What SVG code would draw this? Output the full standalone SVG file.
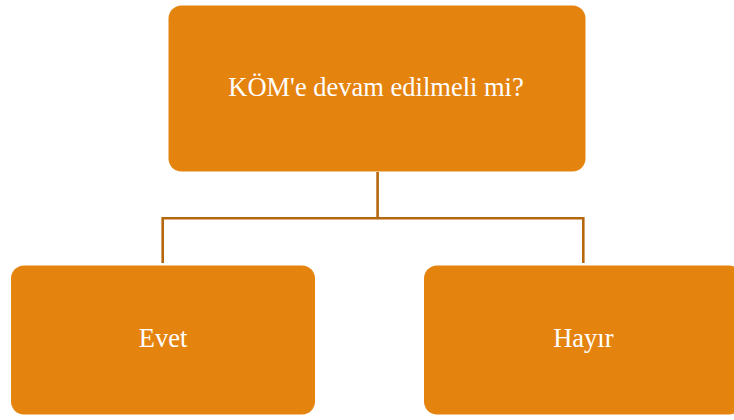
<svg xmlns="http://www.w3.org/2000/svg" width="734" height="420" viewBox="0 0 734 420">
<style>
.box{fill:#E5830F;}
.lbl{font-family:"Liberation Serif","Times New Roman",serif;fill:#FFFFFF;text-anchor:middle;font-size:26.5px;}
.conn{fill:none;stroke:#B5670E;stroke-width:2.6;}
</style>
<rect width="734" height="420" fill="#FFFFFF"/>
<g id="connectors">
<path class="conn" d="M377.6 172 V218.3 M162.7 263 V218.3 H583.3 V263"/>
</g>
<g id="node-root">
<rect class="box" x="168.5" y="5.5" width="417" height="166" rx="13"/>
<text class="lbl" x="376" y="96">KÖM'e devam edilmeli mi?</text>
</g>
<g id="node-evet">
<rect class="box" x="11" y="265.5" width="304" height="149" rx="13"/>
<text class="lbl" x="163" y="347">Evet</text>
</g>
<g id="node-hayir">
<rect class="box" x="424" y="265.5" width="318" height="149" rx="13"/>
<text class="lbl" x="583.3" y="347">Hayır</text>
</g>
</svg>
